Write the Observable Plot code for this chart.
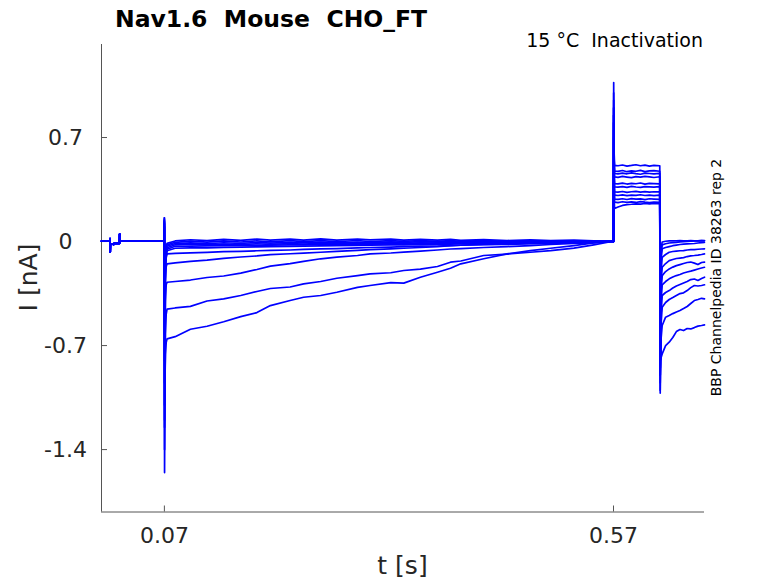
<!DOCTYPE html>
<html><head><meta charset="utf-8">
<script src="https://cdn.jsdelivr.net/npm/d3@7"></script>
<script src="https://cdn.jsdelivr.net/npm/@observablehq/plot@0.6"></script>
<style>body{margin:0;background:#fff} svg text{white-space:pre}</style>
</head><body><div id="chart"></div>
<script>
// ---- data (t in s, I in nA) ----
const traceIds = ["T1","T2","T3","T4","T5","T6","T7","T8","T9","T10","T11"];
const xTicks = [0.07, 0.57];
const yTicks = [0.7, 0, -0.7, -1.4];
const xDomain = [0, 0.6713];
const yDomain = [-1.82, 1.326];

// shared holding segment (all sweeps identical)
const tBaseline = [0, 0.0093, 0.0095, 0.0097, 0.0099, 0.0135, 0.0145, 0.0200, 0.0202, 0.0205, 0.035, 0.05, 0.0698];
const iBaseline = [0.003, 0.003, 0.02, -0.072, -0.015, -0.02, -0.01, -0.012, 0.05, 0.003, 0.002, 0.004, 0.003];

// prepulse segment: transient + slow relaxation
const tPrepulse = [0.0699, 0.0700, 0.0702, 0.0706, 0.0712, 0.0720,
  0.073, 0.082, 0.099, 0.1175, 0.136, 0.155, 0.173, 0.188, 0.21, 0.225, 0.244, 0.262, 0.285, 0.299,
  0.322, 0.3365, 0.355, 0.374, 0.3885, 0.40, 0.4255, 0.4515, 0.4775, 0.50, 0.526, 0.548, 0.5695];
const iPrepulse = [
  [0.003, 0.08, -1.20, -0.95, -0.76, -0.68,
   -0.655, -0.640, -0.590, -0.570, -0.540, -0.505, -0.478, -0.431, -0.397, -0.375, -0.363, -0.341, -0.308, -0.296, -0.276, -0.280, -0.240, -0.207, -0.180, -0.150, -0.116, -0.083, -0.061, -0.045, -0.027, -0.009, 0.003],
  [0.003, 0.10, -1.555, -1.00, -0.62, -0.49,
   -0.455, -0.447, -0.436, -0.400, -0.386, -0.363, -0.336, -0.316, -0.306, -0.285, -0.269, -0.247, -0.229, -0.217, -0.210, -0.195, -0.185, -0.168, -0.139, -0.131, -0.094, -0.084, -0.072, -0.061, -0.044, -0.022, 0.002],
  [0.003, 0.12, -1.40, -0.80, -0.40, -0.29,
   -0.274, -0.269, -0.259, -0.242, -0.232, -0.212, -0.188, -0.165, -0.148, -0.133, -0.116, -0.105, -0.094, -0.083, -0.077, -0.071, -0.064, -0.057, -0.050, -0.047, -0.040, -0.034, -0.027, -0.020, -0.013, -0.007, 0.000],
  [0.003, 0.12, -1.25, -0.60, -0.26, -0.17,
   -0.150, -0.143, -0.133, -0.125, -0.113, -0.104, -0.097, -0.088, -0.082, -0.078, -0.072, -0.066, -0.059, -0.055, -0.049, -0.045, -0.040, -0.034, -0.027, -0.025, -0.020, -0.016, -0.013, -0.010, -0.008, -0.004, 0.001],
  [0.003, 0.14, -1.10, -0.50, -0.19, -0.11,
   -0.083, -0.079, -0.076, -0.073, -0.068, -0.066, -0.062, -0.060, -0.057, -0.053, -0.049, -0.047, -0.043, -0.040, -0.037, -0.034, -0.031, -0.030, -0.027, -0.024, -0.021, -0.019, -0.015, -0.012, -0.009, -0.005, 0.002],
  [0.003, 0.14, -0.95, -0.42, -0.17, -0.10,
   -0.062, -0.045, -0.043, -0.042, -0.039, -0.038, -0.036, -0.034, -0.033, -0.031, -0.029, -0.028, -0.026, -0.024, -0.023, -0.022, -0.019, -0.018, -0.017, -0.015, -0.014, -0.012, -0.010, -0.008, -0.006, -0.003, 0.001],
  [0.003, 0.15, -0.80, -0.34, -0.14, -0.09,
   -0.052, -0.032, -0.031, -0.029, -0.028, -0.026, -0.026, -0.024, -0.023, -0.022, -0.020, -0.020, -0.018, -0.017, -0.016, -0.014, -0.014, -0.012, -0.012, -0.011, -0.009, -0.008, -0.007, -0.005, -0.004, -0.002, 0.002],
  [0.003, 0.16, -0.62, -0.27, -0.12, -0.08,
   -0.042, -0.022, -0.018, -0.023, -0.017, -0.020, -0.015, -0.019, -0.013, -0.017, -0.012, -0.015, -0.010, -0.014, -0.009, -0.012, -0.008, -0.011, -0.006, -0.009, -0.005, -0.007, -0.003, -0.005, -0.001, -0.002, 0.002],
  [0.003, 0.16, -0.42, -0.20, -0.09, -0.06,
   -0.032, -0.013, -0.009, -0.014, -0.008, -0.012, -0.006, -0.011, -0.005, -0.009, -0.004, -0.008, -0.003, -0.007, -0.002, -0.006, -0.001, -0.004, 0.000, -0.003, 0.001, -0.002, 0.002, -0.001, 0.002, 0.000, 0.002],
  [0.003, 0.13, -0.26, -0.13, -0.06, -0.045,
   -0.022, -0.005, 0.003, -0.004, 0.004, -0.003, 0.005, -0.002, 0.006, -0.001, 0.006, 0.000, 0.007, 0.000, 0.006, 0.001, 0.007, 0.001, 0.006, 0.002, 0.006, 0.002, 0.005, 0.002, 0.005, 0.003, 0.003],
  [0.003, 0.10, -0.12, -0.06, -0.035, -0.03,
   -0.012, 0.004, 0.012, 0.006, 0.015, 0.008, 0.017, 0.009, 0.016, 0.010, 0.018, 0.009, 0.017, 0.011, 0.016, 0.010, 0.015, 0.009, 0.014, 0.008, 0.013, 0.007, 0.011, 0.006, 0.009, 0.005, 0.003]
];

// test pulse segment
const tTest = [0.5700, 0.5702, 0.5706, 0.5712, 0.575, 0.58, 0.585, 0.59, 0.595, 0.60, 0.605, 0.61, 0.615, 0.6215];
const iTest = [
  [0.0, 0.75, 0.61, 0.513, 0.510, 0.515, 0.508, 0.512, 0.517, 0.510, 0.514, 0.508, 0.513, 0.510],
  [0.0, 0.80, 0.57, 0.474, 0.472, 0.478, 0.470, 0.476, 0.473, 0.479, 0.471, 0.475, 0.477, 0.473],
  [0.0, 0.85, 0.56, 0.458, 0.455, 0.460, 0.456, 0.462, 0.457, 0.453, 0.460, 0.458, 0.455, 0.459],
  [0.0, 0.90, 0.53, 0.435, 0.432, 0.438, 0.434, 0.430, 0.437, 0.433, 0.439, 0.435, 0.431, 0.436],
  [0.0, 0.95, 0.49, 0.390, 0.388, 0.393, 0.387, 0.392, 0.389, 0.394, 0.386, 0.391, 0.390, 0.388],
  [0.0, 1.00, 0.47, 0.368, 0.366, 0.370, 0.365, 0.371, 0.367, 0.364, 0.370, 0.368, 0.366, 0.369],
  [0.0, 0.90, 0.43, 0.334, 0.332, 0.337, 0.331, 0.335, 0.338, 0.333, 0.336, 0.332, 0.335, 0.334],
  [0.0, 0.85, 0.41, 0.312, 0.310, 0.314, 0.309, 0.313, 0.311, 0.315, 0.310, 0.312, 0.309, 0.313],
  [0.0, 0.80, 0.39, 0.286, 0.284, 0.288, 0.283, 0.289, 0.285, 0.287, 0.282, 0.288, 0.286, 0.284],
  [0.0, 0.70, 0.36, 0.265, 0.262, 0.268, 0.264, 0.267, 0.263, 0.269, 0.265, 0.262, 0.266, 0.264],
  [0.0, 1.07, 0.30, 0.222, 0.232, 0.243, 0.249, 0.251, 0.254, 0.252, 0.256, 0.253, 0.257, 0.255]
];

// tail segment after the test pulse
const tTail = [0.6220, 0.6230, 0.6242, 0.628, 0.632, 0.636, 0.640, 0.644, 0.648, 0.652, 0.656, 0.660, 0.664, 0.668, 0.6713];
const iTail = [
  [-0.80, -0.78, -0.756, -0.700, -0.677, -0.646, -0.606, -0.592, -0.599, -0.585, -0.588, -0.579, -0.569, -0.565, -0.561],
  [-0.85, -0.65, -0.565, -0.509, -0.498, -0.485, -0.474, -0.464, -0.451, -0.437, -0.417, -0.397, -0.390, -0.382, -0.386],
  [-0.90, -0.55, -0.442, -0.410, -0.390, -0.377, -0.363, -0.350, -0.345, -0.330, -0.310, -0.296, -0.299, -0.296, -0.291],
  [-0.95, -0.48, -0.363, -0.343, -0.330, -0.313, -0.299, -0.289, -0.279, -0.269, -0.256, -0.252, -0.262, -0.249, -0.240],
  [-1.00, -0.40, -0.291, -0.269, -0.251, -0.239, -0.229, -0.222, -0.212, -0.205, -0.199, -0.192, -0.185, -0.178, -0.173],
  [-0.90, -0.33, -0.229, -0.202, -0.184, -0.172, -0.162, -0.155, -0.148, -0.141, -0.138, -0.145, -0.155, -0.141, -0.139],
  [-0.85, -0.27, -0.173, -0.148, -0.128, -0.121, -0.114, -0.111, -0.108, -0.101, -0.096, -0.094, -0.091, -0.087, -0.083],
  [-0.80, -0.20, -0.106, -0.087, -0.072, -0.067, -0.064, -0.062, -0.061, -0.057, -0.055, -0.054, -0.052, -0.050, -0.049],
  [-0.75, -0.12, -0.049, -0.040, -0.034, -0.028, -0.024, -0.020, -0.018, -0.016, -0.015, -0.013, -0.010, -0.007, -0.005],
  [-0.70, -0.08, -0.022, -0.015, -0.010, -0.007, -0.005, -0.002, 0.000, 0.001, 0.003, 0.004, 0.005, 0.006, 0.007],
  [-1.02, -0.05, -0.003, 0.002, 0.004, 0.005, 0.004, 0.006, 0.005, 0.004, 0.006, 0.005, 0.004, 0.006, 0.005]
];

// ---- build table ----
const rows = [];
traceIds.forEach((id, k) => {
  tBaseline.forEach((t, j) => rows.push({trace: id, t, i: iBaseline[j]}));
  tPrepulse.forEach((t, j) => rows.push({trace: id, t, i: iPrepulse[k][j]}));
  tTest.forEach((t, j) => rows.push({trace: id, t, i: iTest[k][j]}));
  tTail.forEach((t, j) => rows.push({trace: id, t, i: iTail[k][j]}));
});

const axisColor = "#555";
const labelColor = "#262626";
const chart = Plot.plot({
  width: 778, height: 583,
  marginLeft: 101, marginRight: 74, marginTop: 44, marginBottom: 71.5,
  style: {fontFamily: "DejaVu Sans", background: "#fff", color: labelColor, overflow: "visible"},
  x: {domain: xDomain},
  y: {domain: yDomain},
  marks: [
    Plot.ruleX([xDomain[0]], {stroke: axisColor}),
    Plot.ruleY([yDomain[0]], {stroke: axisColor}),
    Plot.axisY(yTicks, {tickSize: 6, dx: 6, tickFormat: () => "", stroke: axisColor, label: null}),
    Plot.axisX(xTicks, {tickSize: 6, dy: -6, tickFormat: () => "", stroke: axisColor, label: null}),
    Plot.text(yTicks, {y: d => d, text: d => String(d), frameAnchor: "left", dx: -36, textAnchor: "middle", fontSize: 22, fill: labelColor}),
    Plot.text(xTicks, {x: d => d, text: d => String(d), frameAnchor: "bottom", dy: 15.5, lineAnchor: "top", fontSize: 22, fill: labelColor}),
    Plot.line(rows, {x: "t", y: "i", z: "trace", stroke: "#0000ff", strokeWidth: 1.7})
  ]
});

const svg = d3.select(chart);
const font = "DejaVu Sans";
svg.append("text").attr("x", 115).attr("y", 26.5).attr("text-anchor", "start").attr("font-family", font).attr("font-weight", "bold")
  .attr("font-size", 23.5).attr("fill", "#000").text("Nav1.6  Mouse  CHO_FT");
svg.append("text").attr("x", 703).attr("y", 47).attr("text-anchor", "end").attr("font-family", font)
  .attr("font-size", 19).attr("fill", "#000").text("15 °C  Inactivation");
svg.append("text").attr("x", 402.5).attr("y", 573.5).attr("text-anchor", "middle").attr("font-family", font)
  .attr("font-size", 25).attr("fill", labelColor).text("t [s]");
svg.append("text").attr("transform", "translate(37,277.5) rotate(-90)").attr("text-anchor", "middle").attr("font-family", font)
  .attr("font-size", 25).attr("fill", labelColor).text("I [nA]");
svg.append("text").attr("transform", "translate(721,277.5) rotate(-90)").attr("text-anchor", "middle").attr("font-family", font)
  .attr("font-size", 14).attr("fill", "#000").text("BBP Channelpedia ID 38263 rep 2");

document.getElementById("chart").appendChild(chart);
</script>
</body></html>
